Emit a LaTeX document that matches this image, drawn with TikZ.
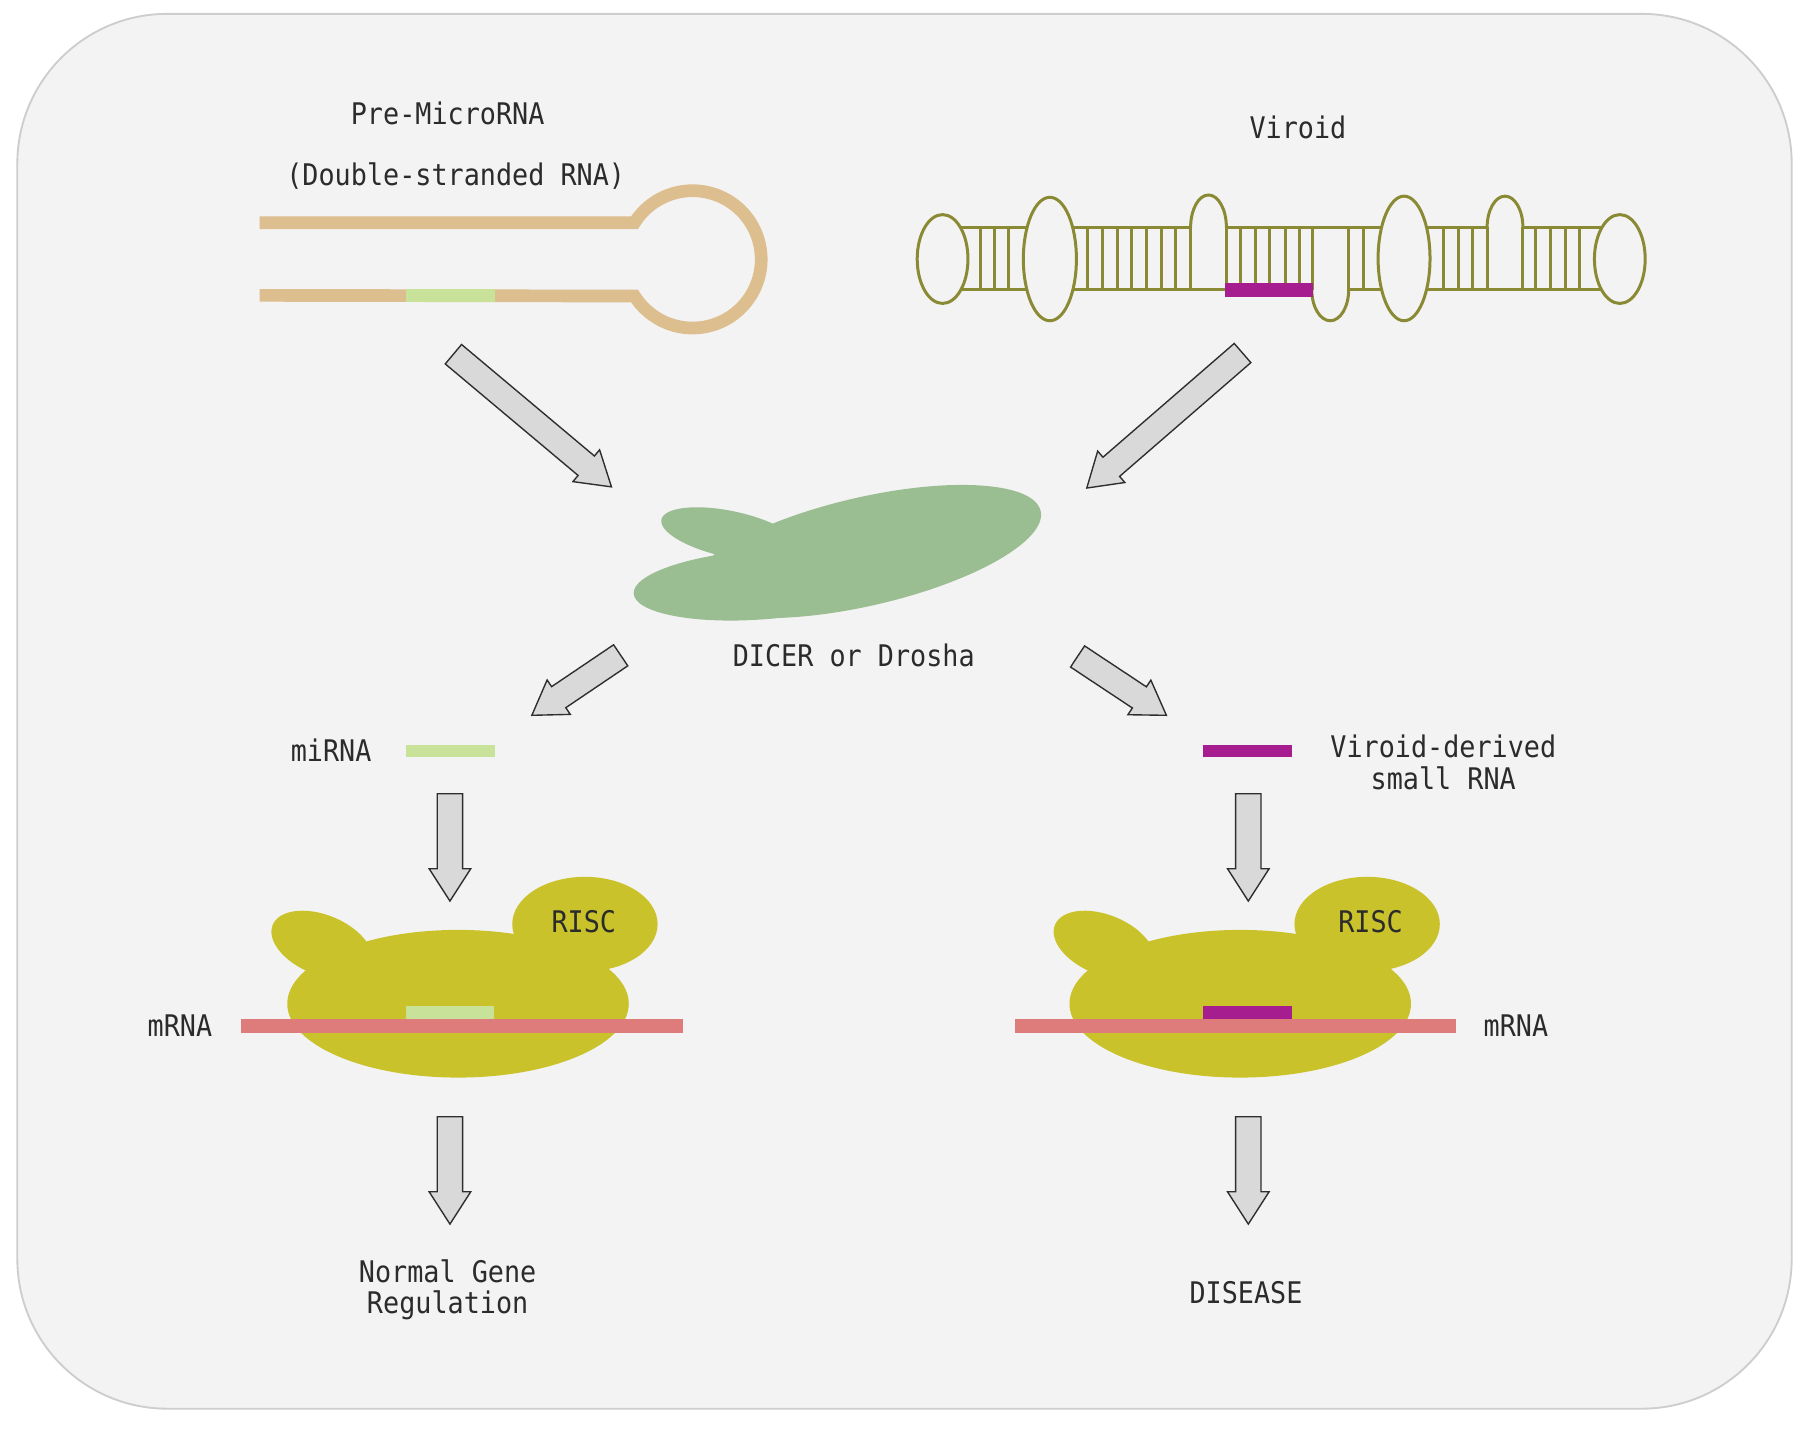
\documentclass[tikz,border=0pt]{standalone}
\usepackage{fontspec}
\setmainfont[FakeStretch=0.9]{DejaVu Sans Mono}
\usetikzlibrary{calc}
\definecolor{bgc}{HTML}{F3F3F3}
\definecolor{bdc}{HTML}{CDCDCD}
\definecolor{tanc}{HTML}{DDBE8F}
\definecolor{ltgreen}{HTML}{C8E29A}
\definecolor{olive}{HTML}{8A8A34}
\definecolor{magc}{HTML}{A51D8E}
\definecolor{dicerc}{HTML}{9BBD92}
\definecolor{riscc}{HTML}{C9C22B}
\definecolor{salmon}{HTML}{DE7B7B}
\definecolor{arrfill}{HTML}{D9D9D9}
\definecolor{arrdraw}{HTML}{2E2E2E}
\definecolor{txt}{HTML}{2B2B2B}
\begin{document}
\begin{tikzpicture}[x=0.5pt,y=-0.5pt,
  lbl/.style={inner sep=0pt, text=txt, font=\fontsize{12.9pt}{13.8pt}\selectfont, align=center},
  strand/.style={draw=olive, line width=1.3pt},
  loopell/.style={draw=olive, fill=bgc, line width=1.3pt},
  blockarrow/.style={draw=arrdraw, fill=arrfill, line width=0.6pt, line join=miter,
    to path={
      let \p1=(\tikztostart), \p2=(\tikztotarget),
          \n1={atan2(\y2-\y1,\x2-\x1)},
          \n2={veclen(\x2-\x1,\y2-\y1)-14}
      in ($(\p1)+(\n1+90:5.5pt)$)
      -- ($(\p1)+(\n1:\n2)+(\n1+90:5.5pt)$)
      -- ($(\p1)+(\n1:\n2)+(\n1+90:9pt)$)
      -- (\p2)
      -- ($(\p1)+(\n1:\n2)+(\n1-90:9pt)$)
      -- ($(\p1)+(\n1:\n2)+(\n1-90:5.5pt)$)
      -- ($(\p1)+(\n1-90:5.5pt)$) -- cycle
    }}
]
\useasboundingbox (0,0) rectangle (1568,1238.6);
\fill[white] (0,0) rectangle (1568,1238.6);
\draw[fill=bgc, draw=bdc, line width=0.8pt, rounded corners=65pt] (15,12) rectangle (1553,1221);

% ---------- Pre-microRNA hairpin ----------
\node[lbl] (premi) at (388,98) {Pre-MicroRNA};
\node[lbl] (dsrna) at (395,153) {(Double-stranded RNA)};
\draw[tanc, line width=5.5pt] (225,193) -- (550,193)
  arc[start angle=147.7, end angle=-147.7, radius=29.75pt] -- (225,256);
\draw[ltgreen, line width=5.5pt] (352,256) -- (429,256);

% ---------- Viroid ----------
\node[lbl] (viroid) at (1125,110) {Viroid};
% strands
\draw[strand] (817,197) -- (1032,197);
\draw[strand] (1063,197) -- (1289,197);
\draw[strand] (1320,197) -- (1403,197);
\draw[strand] (817,251) -- (1137,251);
\draw[strand] (1169,251) -- (1403,251);
% rungs
\foreach \x in {850,862,874,
                943,956,969,981,994,1006.5,1019,1032,
                1063,1075.5,1088,1100.5,1114,1126,1138,
                1169,1182,
                1251,1264,1276,1289,
                1320,1331,1344,1357,1369}
  \draw[strand] (\x,197) -- (\x,251);
% loops
\draw[loopell] (817,224.5) ellipse [x radius=11pt, y radius=19.25pt];
\draw[loopell] (910,224.5) ellipse [x radius=11.5pt, y radius=26.75pt];
\draw[loopell] (1217,224) ellipse [x radius=11.25pt, y radius=27pt];
\draw[loopell] (1404,224.5) ellipse [x radius=11pt, y radius=19.25pt];
% bulges
\draw[strand] (1032,197) arc[start angle=180, end angle=0, x radius=7.75pt, y radius=14pt];
\draw[strand] (1289,197) arc[start angle=180, end angle=0, x radius=7.75pt, y radius=13.5pt];
\draw[strand] (1137,251) arc[start angle=180, end angle=360, x radius=8pt, y radius=13.5pt];
% viroid-derived segment
\draw[magc, line width=5.75pt] (1062,251.3) -- (1138,251.3);

% ---------- DICER ----------
\fill[dicerc, rotate around={4:(658,507)}] (658,507) ellipse [x radius=54.5pt, y radius=15pt];
\fill[dicerc, rotate around={-12:(633,463)}] (633,463) ellipse [x radius=30.5pt, y radius=10pt];
\fill[dicerc, rotate around={13:(750,478)}] (750,478) ellipse [x radius=78pt, y radius=23.5pt];
\node[lbl] (dicer) at (740,568) {DICER or Drosha};

% ---------- small RNAs ----------
\node[lbl] (mirna) at (287,650) {miRNA};
\draw[ltgreen, line width=5pt] (352,651) -- (429,651);
\draw[magc, line width=5.5pt] (1043,651) -- (1120,651);
\node[lbl] (vdsrna) at (1251,661) {Viroid-derived\\small RNA};

% ---------- RISC complexes ----------
\foreach \s in {0,678}{
  \begin{scope}[shift={(\s,0)}]
    \fill[riscc, rotate around={-22:(279,819)}] (279,819) ellipse [x radius=23pt, y radius=13pt];
    \fill[riscc] (507,801) ellipse [x radius=31.5pt, y radius=20.5pt];
    \fill[riscc] (397,870) ellipse [x radius=74pt, y radius=32pt];
  \end{scope}
}
\node[lbl] (risc1) at (506,799) {RISC};
\node[lbl] (risc2) at (1188,799) {RISC};
\draw[salmon, line width=6pt] (209,889) -- (592,889);
\draw[salmon, line width=6pt] (880,889) -- (1262,889);
\draw[ltgreen, line width=5.5pt] (352,877.5) -- (428,877.5);
\draw[magc, line width=5.5pt] (1043,877.5) -- (1120,877.5);
\node[lbl] (mrna1) at (156,889) {mRNA};
\node[lbl] (mrna2) at (1314,889) {mRNA};

% ---------- outcomes ----------
\node[lbl] (normal) at (388,1118) {Normal Gene\\Regulation};
\node[lbl] (disease) at (1080,1120) {DISEASE};

% ---------- block arrows ----------
\coordinate (a1s) at (393,307);   \coordinate (a1e) at (530,422);
\coordinate (a2s) at (1077,306);  \coordinate (a2e) at (942,423);
\coordinate (a3s) at (538,568);   \coordinate (a3e) at (461,620);
\coordinate (a4s) at (934,569);   \coordinate (a4e) at (1011,620);
\coordinate (a5s) at (390,688);   \coordinate (a5e) at (390,781);
\coordinate (a6s) at (1082,688);  \coordinate (a6e) at (1082,781);
\coordinate (a7s) at (390,968);   \coordinate (a7e) at (390,1061);
\coordinate (a8s) at (1082,968);  \coordinate (a8e) at (1082,1061);
\foreach \i in {1,...,8}
  \draw[blockarrow] (a\i s) to (a\i e);
\end{tikzpicture}
\end{document}
